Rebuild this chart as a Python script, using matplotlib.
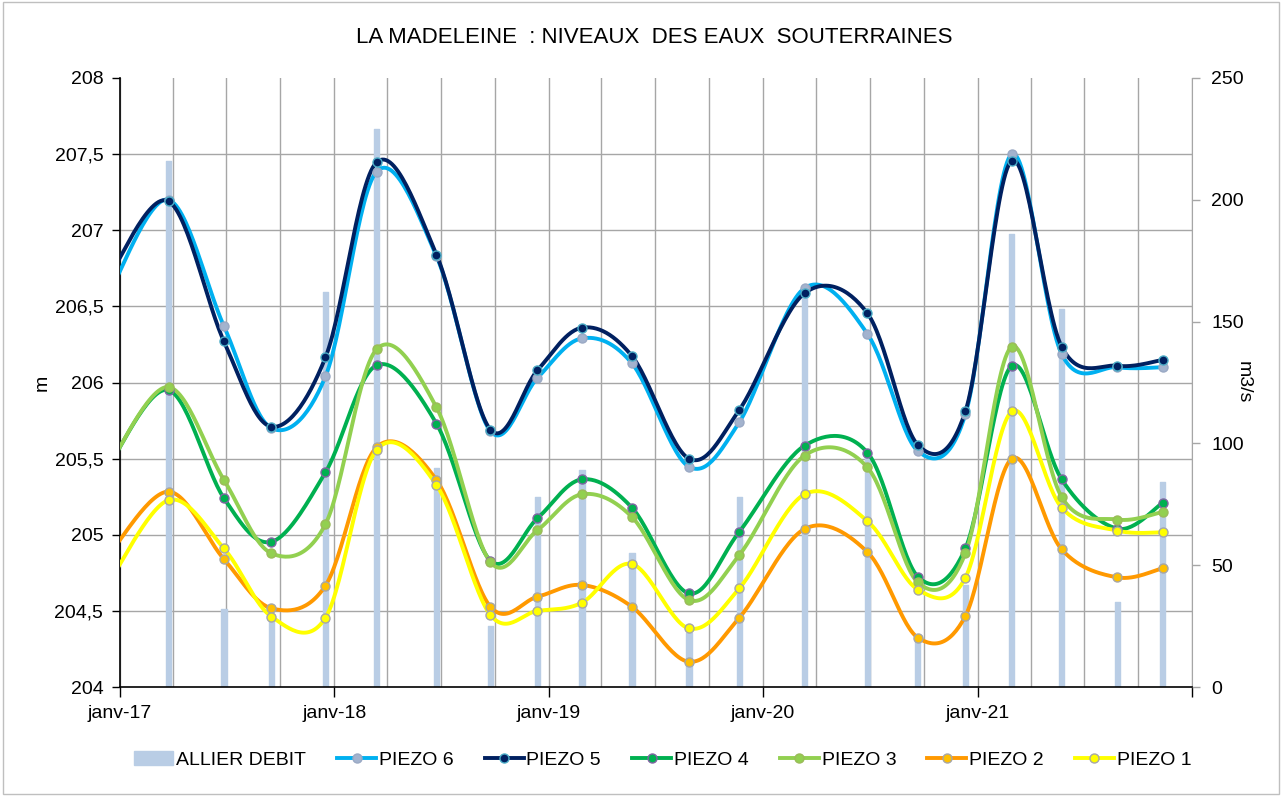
import datetime as dt

import matplotlib
matplotlib.use("Agg")
import matplotlib.pyplot as plt
import matplotlib.dates as mdates
import numpy as np
from matplotlib.lines import Line2D
from matplotlib.patches import Patch, Rectangle
from matplotlib.ticker import FuncFormatter, MultipleLocator, NullFormatter

plt.rcParams['font.family'] = ['Liberation Sans', 'DejaVu Sans']

# --- data -------------------------------------------------------------------
# survey dates (the first one precedes the displayed window)
dates = ['2016-12-15', '2017-03-25', '2017-06-27', '2017-09-16', '2017-12-17',
         '2018-03-14', '2018-06-24', '2018-09-24', '2018-12-13', '2019-02-27',
         '2019-05-23', '2019-08-28', '2019-11-22', '2020-03-12', '2020-06-27',
         '2020-09-21', '2020-12-11', '2021-02-28', '2021-05-24', '2021-08-27',
         '2021-11-12']

# Allier river discharge (m3/s) on the same survey dates (from 2017-03-25)
allier_debit = [216, 32, 30, 162, 229, 90, 25, 78, 89, 55,
                22, 78, 164, 97, 20, 42, 186, 155, 35, 84]

piezo6 = [206.60, 207.20, 206.37, 205.70, 206.04, 207.385, 206.83, 205.68, 206.03,
          206.29, 206.126, 205.447, 205.74, 206.62, 206.32, 205.55, 205.79, 207.50,
          206.187, 206.10, 206.10]
piezo5 = [206.71, 207.19, 206.27, 205.71, 206.165, 207.446, 206.84, 205.69, 206.08,
          206.36, 206.174, 205.50, 205.82, 206.586, 206.455, 205.59, 205.81, 207.457,
          206.235, 206.11, 206.148]
piezo4 = [205.47, 205.95, 205.24, 204.954, 205.41, 206.113, 205.73, 204.83, 205.108,
          205.364, 205.178, 204.615, 205.02, 205.585, 205.54, 204.725, 204.91, 206.11,
          205.364, 205.04, 205.21]
piezo3 = [205.47, 205.97, 205.36, 204.878, 205.07, 206.218, 205.837, 204.82, 205.03,
          205.266, 205.117, 204.571, 204.867, 205.52, 205.443, 204.687, 204.878, 206.235,
          205.248, 205.10, 205.15]
piezo2 = [204.88, 205.283, 204.84, 204.517, 204.666, 205.574, 205.36, 204.527, 204.593,
          204.67, 204.527, 204.166, 204.455, 205.038, 204.887, 204.324, 204.466, 205.50,
          204.904, 204.72, 204.78]
piezo1 = [204.70, 205.228, 204.91, 204.462, 204.455, 205.557, 205.327, 204.473, 204.50,
          204.554, 204.808, 204.385, 204.648, 205.266, 205.09, 204.64, 204.718, 205.81,
          205.178, 205.027, 205.016]

year_labels = ['janv-17', 'janv-18', 'janv-19', 'janv-20', 'janv-21']

title = 'LA MADELEINE  : NIVEAUX  DES EAUX  SOUTERRAINES'

# --- styles -----------------------------------------------------------------
series = [
    ('PIEZO 6', piezo6, '#00B0F0', '#A3B3CE', '#9AA9C4'),
    ('PIEZO 5', piezo5, '#002060', '#002060', '#4BACC6'),
    ('PIEZO 4', piezo4, '#00B050', '#00B050', '#8064A2'),
    ('PIEZO 3', piezo3, '#92D050', '#92D050', '#9BBB59'),
    ('PIEZO 2', piezo2, '#FF9900', '#FFC000', '#A6A6A6'),
    ('PIEZO 1', piezo1, '#FFFF00', '#FFFF00', '#A6A6A6'),
]
bar_color = '#B9CDE5'
grid_color = '#A6A6A6'


def smooth(xs, ys, n=30):
    """Cardinal (Catmull-Rom) Bezier smoothing through the given points."""
    pts = np.column_stack([np.asarray(xs, float), np.asarray(ys, float)])
    out = [pts[0]]
    t = np.linspace(0, 1, n + 1)[1:, None]
    for i in range(len(pts) - 1):
        p0 = pts[i - 1] if i > 0 else pts[i]
        p1, p2 = pts[i], pts[i + 1]
        p3 = pts[i + 2] if i + 2 < len(pts) else pts[i + 1]
        c1 = p1 + (p2 - p0) / 6.0
        c2 = p2 - (p3 - p1) / 6.0
        seg = ((1 - t) ** 3) * p1 + 3 * ((1 - t) ** 2) * t * c1 \
            + 3 * (1 - t) * t ** 2 * c2 + t ** 3 * p2
        out.extend(seg)
    out = np.array(out)
    return out[:, 0], out[:, 1]


xdates = [dt.datetime.strptime(d, '%Y-%m-%d') for d in dates]
xnum = mdates.date2num(xdates)

# --- figure -----------------------------------------------------------------
fig = plt.figure(figsize=(12.82, 7.96), dpi=100)
fig.patch.set_facecolor('white')
fig.add_artist(Rectangle((0.002, 0.003), 0.996, 0.994, transform=fig.transFigure,
                         fill=False, edgecolor='#BFBFBF', linewidth=1.0))

# Discharge axis (drawn underneath, owns the gridlines)
axb = fig.add_axes([120 / 1282, 109 / 796, 1072 / 1282, 609 / 796])
# Level axis on top
axl = axb.twinx()

axb.bar(xnum[1:], allier_debit, width=9, color=bar_color, edgecolor=bar_color,
        linewidth=1.0, joinstyle='round', zorder=2)
axb.set_ylim(0, 250)
axb.yaxis.tick_right()
axb.yaxis.set_label_position('right')
axb.yaxis.set_major_locator(MultipleLocator(50))
axb.yaxis.set_minor_locator(MultipleLocator(31.25))
axb.yaxis.set_minor_formatter(NullFormatter())
axb.set_ylabel('m3/s', rotation=270, fontsize=14, va='center')
axb.yaxis.set_label_coords(1.0476, 0.5)

x0 = mdates.date2num(dt.datetime(2017, 1, 1))
x1 = mdates.date2num(dt.datetime(2022, 1, 1))
axb.set_xlim(x0, x1)
axb.xaxis.set_major_locator(mdates.YearLocator())
axb.xaxis.set_minor_locator(mdates.MonthLocator(bymonth=[1, 4, 7, 10]))


def year_fmt(v, pos):
    y = mdates.num2date(v).year
    idx = y - 2017
    return year_labels[idx] if 0 <= idx < len(year_labels) else ''


axb.xaxis.set_major_formatter(FuncFormatter(year_fmt))
axb.xaxis.set_minor_formatter(NullFormatter())

axb.grid(True, which='minor', axis='both', color=grid_color, linewidth=1.0)
axb.grid(False, which='major', axis='y')
axb.grid(True, which='major', axis='x', color=grid_color, linewidth=1.0)
axb.set_axisbelow(True)

axb.tick_params(axis='x', which='major', direction='out', length=7, width=1.0,
                color='black', labelsize=14, pad=6)
axb.tick_params(axis='x', which='minor', length=0)
axb.tick_params(axis='y', which='major', direction='out', length=6, width=1.0,
                color=grid_color, labelsize=14, pad=8)
axb.tick_params(axis='y', which='minor', length=0)

for side in ('left', 'top'):
    axb.spines[side].set_visible(False)
axb.spines['right'].set_color(grid_color)
axb.spines['bottom'].set_color('black')
axb.spines['bottom'].set_linewidth(1.2)

# Groundwater levels
for name, vals, lc, mfc, mec in series:
    sx, sy = smooth(xnum, vals)
    axl.plot(sx, sy, color=lc, linewidth=2.8, solid_capstyle='round', zorder=3)
    axl.plot(xnum, vals, linestyle='none', marker='o', markersize=6.5,
             markerfacecolor=mfc, markeredgecolor=mec, markeredgewidth=1.0, zorder=4)

axl.set_ylim(204, 208)
axl.set_xlim(x0, x1)
axl.yaxis.tick_left()
axl.yaxis.set_label_position('left')
axl.yaxis.set_major_locator(MultipleLocator(0.5))
axl.yaxis.set_major_formatter(FuncFormatter(lambda v, p: f'{v:g}'.replace('.', ',')))
axl.tick_params(axis='y', direction='out', length=6, width=1.0, color='black',
                labelsize=14, pad=6)
axl.set_ylabel('m', fontsize=14, va='center')
axl.yaxis.set_label_coords(-0.0728, 0.5)
for side in ('right', 'top', 'bottom'):
    axl.spines[side].set_visible(False)
axl.spines['left'].set_color('black')
axl.spines['left'].set_linewidth(1.2)

fig.text(0.51, 0.9535, title, ha='center', va='center', fontsize=16)

handles = [Patch(facecolor=bar_color, edgecolor=bar_color)]
labels = ['ALLIER DEBIT']
for name, vals, lc, mfc, mec in series:
    handles.append(Line2D([], [], color=lc, linewidth=2.8, marker='o', markersize=6.5,
                          markerfacecolor=mfc, markeredgecolor=mec, markeredgewidth=1.0))
    labels.append(name)
fig.legend(handles, labels, ncol=7, loc='center', bbox_to_anchor=(0.517, 0.045),
           frameon=False, fontsize=14, handlelength=2.0, handletextpad=0.15,
           columnspacing=1.6, numpoints=1)

fig.savefig('out.png', dpi=100, facecolor='white')
